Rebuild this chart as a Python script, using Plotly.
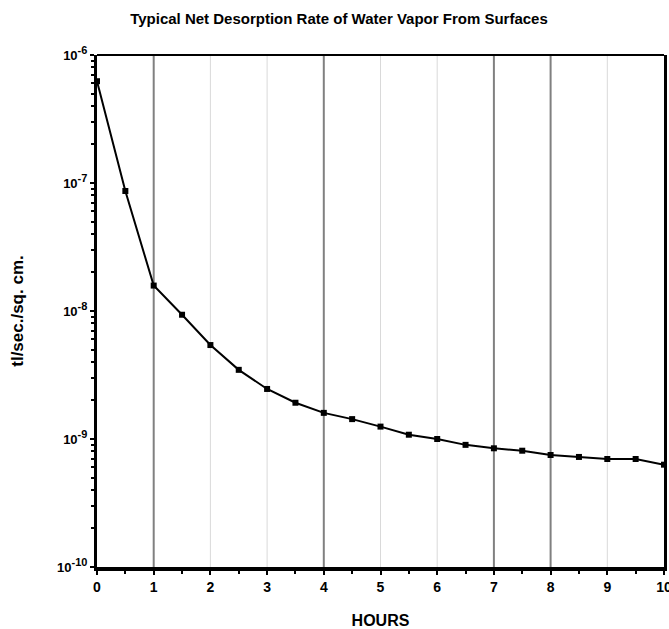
import numpy as np
import plotly.graph_objects as go

hours = [0, 0.5, 1, 1.5, 2, 2.5, 3, 3.5, 4, 4.5, 5, 5.5, 6, 6.5, 7, 7.5, 8, 8.5, 9, 9.5, 10]
rate = [6.24e-7, 8.66e-8, 1.58e-8, 9.35e-9, 5.42e-9, 3.47e-9, 2.46e-9, 1.92e-9, 1.60e-9,
        1.43e-9, 1.25e-9, 1.08e-9, 1.00e-9, 9.0e-10, 8.46e-10, 8.1e-10, 7.5e-10, 7.24e-10,
        6.98e-10, 6.98e-10, 6.3e-10]

y_tickvals = [1e-10, 1e-9, 1e-8, 1e-7, 1e-6]
y_exponents = ["-10", "-9", "-8", "-7", "-6"]
x_tickvals = list(range(0, 11))
dark_x = [1, 4, 7, 8]
light_x = [2, 3, 5, 6, 9]
dark_y = [1e-7]
light_y = [1e-9, 1e-8]

minor_y = [m * 10.0 ** e for e in range(-10, -6) for m in range(2, 10)]
minor_x = [v + 0.5 for v in range(0, 10)]

y_ticktext = [f"<b>10<sup><span style='font-size:11px'>{e}</span></sup></b>" for e in y_exponents]
x_ticktext = [f"<b>{v}</b>" for v in x_tickvals]

FONT = "Liberation Sans, Arial, sans-serif"
DARK = "#808080"
LIGHT = "#d9d9d9"

fig = go.Figure()
fig.add_trace(go.Scatter(
    x=hours, y=rate, mode="lines+markers",
    line=dict(color="black", width=2),
    marker=dict(symbol="square", size=6, color="black"),
    cliponaxis=False, showlegend=False, hoverinfo="skip",
))

shapes = []
for xs, col, w in ((light_x, LIGHT, 1), (dark_x, DARK, 2)):
    for xv in xs:
        shapes.append(dict(type="line", xref="x", yref="paper", x0=xv, x1=xv, y0=0, y1=1,
                           line=dict(color=col, width=w), layer="below"))
for ys, col, w in ((light_y, LIGHT, 1), (dark_y, DARK, 2)):
    for yv in ys:
        ly = float(np.log10(yv))
        shapes.append(dict(type="line", xref="paper", yref="y", x0=0, x1=1, y0=ly, y1=ly,
                           line=dict(color=col, width=w), layer="below"))
shapes.append(dict(type="line", xref="paper", yref="paper", x0=0, x1=1, y0=1, y1=1,
                   line=dict(color="black", width=2), layer="above"))

W, H = 669, 629
fig.update_layout(
    width=W, height=H,
    margin=dict(l=97, r=5, t=55, b=62),
    paper_bgcolor="white", plot_bgcolor="rgba(0,0,0,0)",
    font=dict(family=FONT, color="black", size=13),
    title=dict(text="<b>Typical Net Desorption Rate of Water Vapor From Surfaces</b>",
               x=339 / W, xanchor="center", y=1 - 19 / H, yanchor="middle",
               font=dict(family=FONT, size=15, color="black")),
    shapes=shapes,
    xaxis=dict(
        range=[0, 10], tickmode="array", tickvals=x_tickvals, ticktext=x_ticktext,
        ticks="outside", ticklen=4, tickwidth=2, tickcolor="black", ticklabelstandoff=0,
        ticklabeloverflow="allow",
        showline=True, linewidth=4, linecolor="black", mirror=False,
        showgrid=False, zeroline=False, automargin=False,
        tickfont=dict(family=FONT, size=14, color="black"),
        minor=dict(tickmode="array", tickvals=minor_x, ticks="outside", ticklen=3,
                   tickwidth=2, tickcolor="black", showgrid=False),
        title=dict(text="<b>HOURS</b>", standoff=28,
                   font=dict(family=FONT, size=16, color="black")),
    ),
    yaxis=dict(
        type="log", range=[-10, -6], tickmode="array", tickvals=y_tickvals, ticktext=y_ticktext,
        ticks="outside", ticklen=4, tickwidth=2, tickcolor="black",
        ticklabeloverflow="allow",
        showline=True, linewidth=3, linecolor="black", mirror=True,
        showgrid=False, zeroline=False, automargin=False,
        tickfont=dict(family=FONT, size=13, color="black"),
        minor=dict(tickmode="array", tickvals=minor_y, ticks="outside", ticklen=3,
                   tickwidth=2, tickcolor="black", showgrid=False),
        title=dict(text="<b>tl/sec./sq. cm.</b>", standoff=30,
                   font=dict(family=FONT, size=17, color="black")),
    ),
)

fig.write_html(
    "out.html",
    config={"displayModeBar": False},
    post_script="document.body.style.margin='0';document.body.style.overflow='hidden';",
)
